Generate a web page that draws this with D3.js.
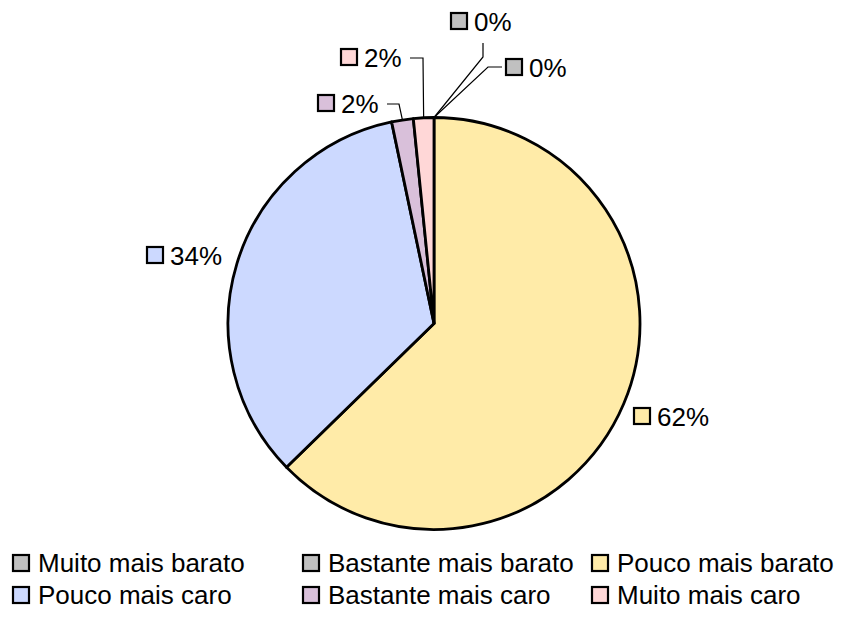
<!DOCTYPE html>
<html><head><meta charset="utf-8">
<script src="https://cdn.jsdelivr.net/npm/d3@7"></script>
<style>
html,body{margin:0;padding:0;background:#fff;}
svg text{font-family:"Liberation Sans",Arial,sans-serif;fill:#000;}
</style></head>
<body>
<svg id="chart" width="842" height="617"></svg>
<script>
// ---- data ----
const categories = ["Muito mais barato","Bastante mais barato","Pouco mais barato","Pouco mais caro","Bastante mais caro","Muito mais caro"];
const values = [0, 0, 62.7, 34.0, 1.7, 1.6];
const valueLabels = ["0%","0%","62%","34%","2%","2%"];
const colors = ["#C0C0C0","#C0C0C0","#FFEBA8","#CCD9FF","#D9C0DA","#FFD7D7"];

// ---- layout ----
const W = 842, H = 617;
const cx = 434, cy = 323.5, R = 206;
// label marker positions relative to pie centre
const labelOffsets = [[17,-310.5],[72,-264.5],[200,84.5],[-287,-76.5],[-116,-228.5],[-93,-274.5]];
// leader line: start and elbow relative to pie centre (null = no leader)
const leaders = [
  [[49,-280.5],[49,-266.5]],
  [[68,-256.5],[54,-256.5]],
  null,
  null,
  [[-47,-219.5],[-35,-219.5]],
  [[-24,-265.5],[-11,-265.5]]
];

const svg = d3.select("#chart");
const g = svg.append("g").attr("transform", `translate(${cx},${cy})`);

const pie = d3.pie().sort(null).value(d => d)(values);
const arc = d3.arc().innerRadius(0).outerRadius(R);

g.selectAll("path.slice").data(pie).join("path")
  .attr("class","slice")
  .attr("d", arc)
  .attr("fill", (d,i) => colors[i])
  .attr("stroke", "#000")
  .attr("stroke-width", 2.8)
  .attr("stroke-linejoin","round");

// leader lines
pie.forEach((d,i) => {
  if (!leaders[i]) return;
  const a = (d.startAngle + d.endAngle) / 2;
  const ex = R * Math.sin(a), ey = -R * Math.cos(a);
  const [s, e] = leaders[i];
  g.append("polyline")
    .attr("points", [s, e, [ex, ey]].map(p => p.join(",")).join(" "))
    .attr("fill","none").attr("stroke","#000").attr("stroke-width",1.2);
});

// data labels
const ms = 16;
pie.forEach((d,i) => {
  const [ox, oy] = labelOffsets[i];
  g.append("rect").attr("x", ox).attr("y", oy).attr("width", ms).attr("height", ms)
    .attr("fill", colors[i]).attr("stroke","#000").attr("stroke-width",2.2);
  g.append("text").attr("x", ox + 23).attr("y", oy + 17.5)
    .style("font-size","26px")
    .text(valueLabels[i]);
});

// legend
const legCols = [13, 303, 592];
const legRows = [555, 587];
const leg = svg.append("g");
categories.forEach((c,i) => {
  const x = legCols[i % 3], y = legRows[Math.floor(i / 3)];
  leg.append("rect").attr("x", x).attr("y", y).attr("width", ms).attr("height", ms)
    .attr("fill", colors[i]).attr("stroke","#000").attr("stroke-width",2.2);
  leg.append("text").attr("x", x + 25).attr("y", y + 17)
    .style("font-size","26px")
    .text(c);
});
</script>
</body></html>
